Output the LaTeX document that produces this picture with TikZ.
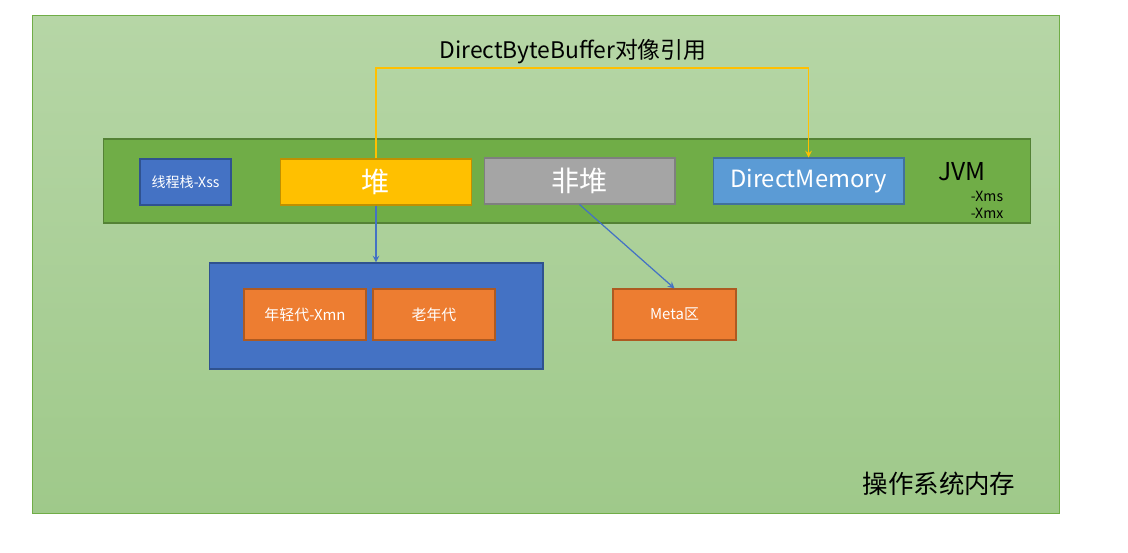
\documentclass[tikz,border=0pt]{standalone}
\usepackage{fontspec}
\setmainfont{Noto Sans CJK SC}
\definecolor{osTop}{HTML}{B6D6A6}
\definecolor{osBot}{HTML}{9FC98A}
\definecolor{osLine}{HTML}{70AD47}
\definecolor{jvmFill}{HTML}{70AD47}
\definecolor{jvmLine}{HTML}{548235}
\definecolor{blueFill}{HTML}{4472C4}
\definecolor{blueLine}{HTML}{2F528F}
\definecolor{heapFill}{HTML}{FFC000}
\definecolor{heapLine}{HTML}{BF9000}
\definecolor{grayFill}{HTML}{A5A5A5}
\definecolor{grayLine}{HTML}{7F7F7F}
\definecolor{dmFill}{HTML}{5B9BD5}
\definecolor{dmLine}{HTML}{41719C}
\definecolor{orFill}{HTML}{ED7D31}
\definecolor{orLine}{HTML}{AE5A21}
\begin{document}
\begin{tikzpicture}[x=0.02cm, y=-0.02cm,
  area/.style={draw, line width=0.6pt, inner sep=0pt},
  bigbox/.style={area, minimum width=3.82cm, minimum height=0.92cm, text=white, font=\fontsize{13.5}{14}\selectfont},
  genbox/.style={area, fill=orFill, draw=orLine, minimum width=2.44cm, minimum height=1.02cm, text=white, font=\fontsize{8.5}{10}\selectfont},
  link/.style={line width=0.7pt, -stealth}]
  % Canvas and OS memory
  \useasboundingbox (0,0) rectangle (1128,553);
  \fill[white] (0,0) rectangle (1128,553);
  \node[area, draw=osLine, top color=osTop, bottom color=osBot, minimum width=20.56cm, minimum height=9.98cm] (os) at (546,264.5) {};
  \node[font=\fontsize{14.5}{16}\selectfont] (oslabel) at (939,484) {操作系统内存};

  % JVM band
  \node[area, fill=jvmFill, draw=jvmLine, minimum width=18.56cm, minimum height=1.68cm] (jvm) at (567,181) {};
  \node[font=\fontsize{14}{16}\selectfont] (jvmlabel) at (962,172) {JVM};
  \node[font=\fontsize{8}{9}\selectfont] (xms) at (987,196) {-Xms};
  \node[font=\fontsize{8}{9}\selectfont] (xmx) at (987,213) {-Xmx};

  % Boxes inside the JVM
  \node[area, fill=blueFill, draw=blueLine, minimum width=1.82cm, minimum height=0.92cm, text=white, font=\fontsize{8}{9}\selectfont] (stack) at (185.5,182) {线程栈-Xss};
  \node[bigbox, fill=heapFill, draw=heapLine, font=\fontsize{16}{17}\selectfont] (heap) at (376,182) {堆};
  \node[bigbox, fill=grayFill, draw=grayLine, font=\fontsize{16}{17}\selectfont] (nonheap) at (579.5,181) {非堆};
  \node[bigbox, fill=dmFill, draw=dmLine] (direct) at (808.5,181) {DirectMemory};

  % Heap generations and metaspace
  \node[area, fill=blueFill, draw=blueLine, minimum width=6.68cm, minimum height=2.12cm] (gens) at (376,316) {};
  \node[genbox] (young) at (305,314.5) {年轻代-Xmn};
  \node[genbox] (old) at (434,314.5) {老年代};
  \node[genbox, minimum width=2.46cm] (meta) at (674.5,314.5) {Meta区};

  % Links
  \draw[link, blueFill] (heap.south) -- (gens.north);
  \draw[link, blueFill] (nonheap.south) -- (meta.north);
  \coordinate (ref) at (592,68);
  \draw[link, heapFill] (heap.north) |- (ref) -| (direct.north); % Reference path
  \node[font=\fontsize{13}{15}\selectfont] (reflabel) at (573,52) {DirectByteBuffer对像引用};
\end{tikzpicture}
\end{document}
